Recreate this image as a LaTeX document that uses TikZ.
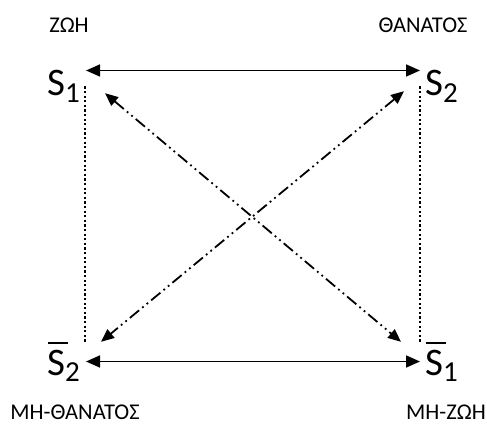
\documentclass[tikz,border=0pt]{standalone}
\usepackage{fontspec}
\setmainfont{Carlito}
\usetikzlibrary{arrows.meta,positioning,calc}

\newcommand{\symb}[2]{{\fontsize{39}{39}\selectfont #1}\raisebox{-6pt}{\fontsize{29}{29}\selectfont #2}}
\newcommand{\negsymb}[2]{\rlap{\hspace{1pt}\raisebox{31pt}{\rule{20pt}{2pt}}}\symb{#1}{#2}}

\begin{document}
\begin{tikzpicture}[
    x=1pt, y=-1pt,
    sym/.style={inner sep=0pt, anchor=base west},
    label/.style={font=\fontsize{22.5}{26}\selectfont, anchor=base, inner sep=0pt},
    edge/.style={{Triangle[length=14pt,width=12pt]}-{Triangle[length=14pt,width=12pt]}, line width=1.7pt},
    diag/.style={{Triangle[length=13pt,width=11pt]}-{Triangle[length=13pt,width=11pt]}, line width=1.8pt,
        dash pattern=on 12pt off 4pt on 1.8pt off 4pt on 1.8pt off 4pt},
    dotline/.style={line width=2.5pt, dash pattern=on 2.2pt off 2.4pt},
]
\useasboundingbox (0,0) rectangle (487,425);

% Symbols
\node[sym] (s1) at (47, 96) {\symb{S}{1}};
\node[sym] (s2) at (425, 96) {\symb{S}{2}};
\node[sym] (ns2) at (47, 375) {\negsymb{S}{2}};
\node[sym] (ns1) at (425, 375) {\negsymb{S}{1}};

% Labels
\node[label] (zoi) at (69, 33) {ΖΩΗ};
\node[label] (thanatos) at (423, 33) {ΘΑΝΑΤΟΣ};
\node[label] (mithanatos) at (75, 419) {ΜΗ-ΘΑΝΑΤΟΣ};
\node[label] (mizoi) at (446, 419) {ΜΗ-ΖΩΗ};

% Contraries and subcontraries
\draw[edge, shorten <=6pt, shorten >=5pt] (s1.north east) -- (s2.north west);
\draw[edge, shorten <=6pt, shorten >=5pt] (ns2.east) -- (ns1.west);

% Implications
\draw[dotline] ([xshift=5pt]s1.east) -- ([xshift=5pt]ns2.north east);
\draw[dotline] ([xshift=-5pt]s2.west) -- ([xshift=-5pt]ns1.north west);

% Contradictories
\draw[diag] ([shift={(25pt,9pt)}]s1.south east) -- ([xshift=-24pt]ns1.north west);
\draw[diag] ([shift={(-21pt,11pt)}]s2.south west) -- ([xshift=21pt]ns2.north east);

\end{tikzpicture}
\end{document}
